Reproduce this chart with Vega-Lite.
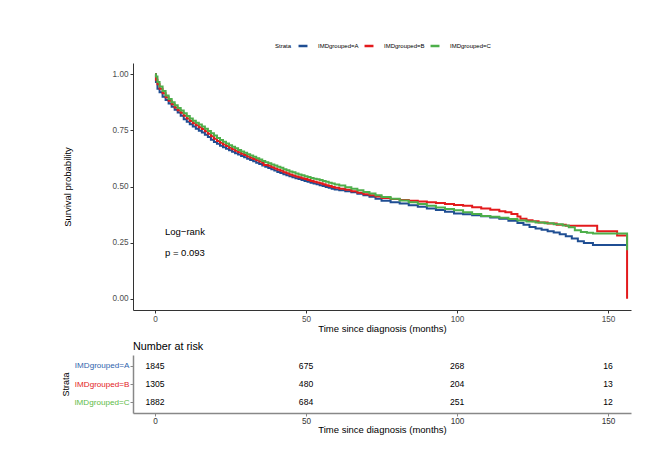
{
  "$schema": "https://vega.github.io/schema/vega-lite/v6.json",
  "padding": {"left": 61, "top": 40, "right": 5, "bottom": 5},
  "background": "white",
  "config": {
    "font": "Liberation Sans",
    "view": {"stroke": null},
    "axis": {"grid": false, "labelFont": "Liberation Sans", "titleFont": "Liberation Sans", "titleFontWeight": "normal"}
  },
  "datasets": {
    "km": [
      {"t": 0, "s": 1.0, "g": "IMDgrouped=A"}, {"t": 0.3, "s": 0.965, "g": "IMDgrouped=A"}, {"t": 0.8, "s": 0.935, "g": "IMDgrouped=A"}, {"t": 1.5, "s": 0.92, "g": "IMDgrouped=A"}, {"t": 2.5, "s": 0.9, "g": "IMDgrouped=A"}, {"t": 3.5, "s": 0.885, "g": "IMDgrouped=A"}, {"t": 4.5, "s": 0.87, "g": "IMDgrouped=A"}, {"t": 5.5, "s": 0.855, "g": "IMDgrouped=A"}, {"t": 6.5, "s": 0.842, "g": "IMDgrouped=A"}, {"t": 7.5, "s": 0.83, "g": "IMDgrouped=A"}, {"t": 8.5, "s": 0.815, "g": "IMDgrouped=A"}, {"t": 9.5, "s": 0.8, "g": "IMDgrouped=A"}, {"t": 10.5, "s": 0.788, "g": "IMDgrouped=A"}, {"t": 11.5, "s": 0.777, "g": "IMDgrouped=A"}, {"t": 12.5, "s": 0.767, "g": "IMDgrouped=A"}, {"t": 13.5, "s": 0.757, "g": "IMDgrouped=A"}, {"t": 14.5, "s": 0.748, "g": "IMDgrouped=A"}, {"t": 15.5, "s": 0.74, "g": "IMDgrouped=A"}, {"t": 16.5, "s": 0.73, "g": "IMDgrouped=A"}, {"t": 17.5, "s": 0.72, "g": "IMDgrouped=A"}, {"t": 18.5, "s": 0.708, "g": "IMDgrouped=A"}, {"t": 19.5, "s": 0.698, "g": "IMDgrouped=A"}, {"t": 20.5, "s": 0.69, "g": "IMDgrouped=A"}, {"t": 21.5, "s": 0.682, "g": "IMDgrouped=A"}, {"t": 22.5, "s": 0.675, "g": "IMDgrouped=A"}, {"t": 23.5, "s": 0.668, "g": "IMDgrouped=A"}, {"t": 24.5, "s": 0.661, "g": "IMDgrouped=A"}, {"t": 25.5, "s": 0.655, "g": "IMDgrouped=A"}, {"t": 26.5, "s": 0.648, "g": "IMDgrouped=A"}, {"t": 27.5, "s": 0.642, "g": "IMDgrouped=A"}, {"t": 28.5, "s": 0.636, "g": "IMDgrouped=A"}, {"t": 29.5, "s": 0.63, "g": "IMDgrouped=A"}, {"t": 30.5, "s": 0.624, "g": "IMDgrouped=A"}, {"t": 31.5, "s": 0.618, "g": "IMDgrouped=A"}, {"t": 32.5, "s": 0.612, "g": "IMDgrouped=A"}, {"t": 33.5, "s": 0.606, "g": "IMDgrouped=A"}, {"t": 34.5, "s": 0.6, "g": "IMDgrouped=A"}, {"t": 35.5, "s": 0.594, "g": "IMDgrouped=A"}, {"t": 36.5, "s": 0.588, "g": "IMDgrouped=A"}, {"t": 37.5, "s": 0.582, "g": "IMDgrouped=A"}, {"t": 38.5, "s": 0.577, "g": "IMDgrouped=A"}, {"t": 39.5, "s": 0.571, "g": "IMDgrouped=A"}, {"t": 40.5, "s": 0.565, "g": "IMDgrouped=A"}, {"t": 41.5, "s": 0.56, "g": "IMDgrouped=A"}, {"t": 42.5, "s": 0.555, "g": "IMDgrouped=A"}, {"t": 43.5, "s": 0.55, "g": "IMDgrouped=A"}, {"t": 44.5, "s": 0.546, "g": "IMDgrouped=A"}, {"t": 45.5, "s": 0.541, "g": "IMDgrouped=A"}, {"t": 46.5, "s": 0.537, "g": "IMDgrouped=A"}, {"t": 47.5, "s": 0.533, "g": "IMDgrouped=A"}, {"t": 48.5, "s": 0.529, "g": "IMDgrouped=A"}, {"t": 49.5, "s": 0.525, "g": "IMDgrouped=A"}, {"t": 50.5, "s": 0.521, "g": "IMDgrouped=A"}, {"t": 51.5, "s": 0.517, "g": "IMDgrouped=A"}, {"t": 52.5, "s": 0.513, "g": "IMDgrouped=A"}, {"t": 53.5, "s": 0.51, "g": "IMDgrouped=A"}, {"t": 54.5, "s": 0.506, "g": "IMDgrouped=A"}, {"t": 55.5, "s": 0.502, "g": "IMDgrouped=A"}, {"t": 56.5, "s": 0.498, "g": "IMDgrouped=A"}, {"t": 57.5, "s": 0.494, "g": "IMDgrouped=A"}, {"t": 58.5, "s": 0.49, "g": "IMDgrouped=A"}, {"t": 59.5, "s": 0.487, "g": "IMDgrouped=A"}, {"t": 61, "s": 0.483, "g": "IMDgrouped=A"}, {"t": 63, "s": 0.479, "g": "IMDgrouped=A"}, {"t": 65, "s": 0.474, "g": "IMDgrouped=A"}, {"t": 67, "s": 0.468, "g": "IMDgrouped=A"}, {"t": 69, "s": 0.461, "g": "IMDgrouped=A"}, {"t": 71, "s": 0.454, "g": "IMDgrouped=A"}, {"t": 73, "s": 0.446, "g": "IMDgrouped=A"}, {"t": 75, "s": 0.436, "g": "IMDgrouped=A"}, {"t": 78, "s": 0.43, "g": "IMDgrouped=A"}, {"t": 81, "s": 0.424, "g": "IMDgrouped=A"}, {"t": 84, "s": 0.417, "g": "IMDgrouped=A"}, {"t": 87, "s": 0.41, "g": "IMDgrouped=A"}, {"t": 90, "s": 0.402, "g": "IMDgrouped=A"}, {"t": 93, "s": 0.395, "g": "IMDgrouped=A"}, {"t": 96, "s": 0.387, "g": "IMDgrouped=A"}, {"t": 99, "s": 0.38, "g": "IMDgrouped=A"}, {"t": 102, "s": 0.376, "g": "IMDgrouped=A"}, {"t": 105, "s": 0.372, "g": "IMDgrouped=A"}, {"t": 108, "s": 0.368, "g": "IMDgrouped=A"}, {"t": 111, "s": 0.362, "g": "IMDgrouped=A"}, {"t": 114, "s": 0.356, "g": "IMDgrouped=A"}, {"t": 117, "s": 0.347, "g": "IMDgrouped=A"}, {"t": 120, "s": 0.338, "g": "IMDgrouped=A"}, {"t": 122, "s": 0.33, "g": "IMDgrouped=A"}, {"t": 124, "s": 0.32, "g": "IMDgrouped=A"}, {"t": 126, "s": 0.313, "g": "IMDgrouped=A"}, {"t": 128, "s": 0.307, "g": "IMDgrouped=A"}, {"t": 130, "s": 0.301, "g": "IMDgrouped=A"}, {"t": 132, "s": 0.295, "g": "IMDgrouped=A"}, {"t": 134, "s": 0.287, "g": "IMDgrouped=A"}, {"t": 136, "s": 0.278, "g": "IMDgrouped=A"}, {"t": 138, "s": 0.268, "g": "IMDgrouped=A"}, {"t": 140, "s": 0.256, "g": "IMDgrouped=A"}, {"t": 142, "s": 0.248, "g": "IMDgrouped=A"}, {"t": 145, "s": 0.24, "g": "IMDgrouped=A"}, {"t": 156.5, "s": 0.24, "g": "IMDgrouped=A"},

      {"t": 0, "s": 1.0, "g": "IMDgrouped=B"}, {"t": 0.3, "s": 0.975, "g": "IMDgrouped=B"}, {"t": 0.8, "s": 0.955, "g": "IMDgrouped=B"}, {"t": 1.5, "s": 0.935, "g": "IMDgrouped=B"}, {"t": 2.5, "s": 0.915, "g": "IMDgrouped=B"}, {"t": 3.5, "s": 0.897, "g": "IMDgrouped=B"}, {"t": 4.5, "s": 0.882, "g": "IMDgrouped=B"}, {"t": 5.5, "s": 0.866, "g": "IMDgrouped=B"}, {"t": 6.5, "s": 0.852, "g": "IMDgrouped=B"}, {"t": 7.5, "s": 0.84, "g": "IMDgrouped=B"}, {"t": 8.5, "s": 0.828, "g": "IMDgrouped=B"}, {"t": 9.5, "s": 0.815, "g": "IMDgrouped=B"}, {"t": 10.5, "s": 0.803, "g": "IMDgrouped=B"}, {"t": 11.5, "s": 0.792, "g": "IMDgrouped=B"}, {"t": 12.5, "s": 0.782, "g": "IMDgrouped=B"}, {"t": 13.5, "s": 0.773, "g": "IMDgrouped=B"}, {"t": 14.5, "s": 0.764, "g": "IMDgrouped=B"}, {"t": 15.5, "s": 0.756, "g": "IMDgrouped=B"}, {"t": 16.5, "s": 0.746, "g": "IMDgrouped=B"}, {"t": 17.5, "s": 0.735, "g": "IMDgrouped=B"}, {"t": 18.5, "s": 0.724, "g": "IMDgrouped=B"}, {"t": 19.5, "s": 0.713, "g": "IMDgrouped=B"}, {"t": 20.5, "s": 0.703, "g": "IMDgrouped=B"}, {"t": 21.5, "s": 0.695, "g": "IMDgrouped=B"}, {"t": 22.5, "s": 0.687, "g": "IMDgrouped=B"}, {"t": 23.5, "s": 0.68, "g": "IMDgrouped=B"}, {"t": 24.5, "s": 0.673, "g": "IMDgrouped=B"}, {"t": 25.5, "s": 0.666, "g": "IMDgrouped=B"}, {"t": 26.5, "s": 0.659, "g": "IMDgrouped=B"}, {"t": 27.5, "s": 0.652, "g": "IMDgrouped=B"}, {"t": 28.5, "s": 0.646, "g": "IMDgrouped=B"}, {"t": 29.5, "s": 0.64, "g": "IMDgrouped=B"}, {"t": 30.5, "s": 0.634, "g": "IMDgrouped=B"}, {"t": 31.5, "s": 0.628, "g": "IMDgrouped=B"}, {"t": 32.5, "s": 0.622, "g": "IMDgrouped=B"}, {"t": 33.5, "s": 0.617, "g": "IMDgrouped=B"}, {"t": 34.5, "s": 0.611, "g": "IMDgrouped=B"}, {"t": 35.5, "s": 0.606, "g": "IMDgrouped=B"}, {"t": 36, "s": 0.596, "g": "IMDgrouped=B"}, {"t": 37.5, "s": 0.592, "g": "IMDgrouped=B"}, {"t": 38.5, "s": 0.586, "g": "IMDgrouped=B"}, {"t": 39.5, "s": 0.58, "g": "IMDgrouped=B"}, {"t": 40.5, "s": 0.575, "g": "IMDgrouped=B"}, {"t": 41.5, "s": 0.57, "g": "IMDgrouped=B"}, {"t": 42.5, "s": 0.564, "g": "IMDgrouped=B"}, {"t": 43.5, "s": 0.559, "g": "IMDgrouped=B"}, {"t": 44.5, "s": 0.554, "g": "IMDgrouped=B"}, {"t": 45.5, "s": 0.549, "g": "IMDgrouped=B"}, {"t": 46.5, "s": 0.545, "g": "IMDgrouped=B"}, {"t": 47.5, "s": 0.541, "g": "IMDgrouped=B"}, {"t": 48.5, "s": 0.537, "g": "IMDgrouped=B"}, {"t": 49.5, "s": 0.533, "g": "IMDgrouped=B"}, {"t": 50.5, "s": 0.529, "g": "IMDgrouped=B"}, {"t": 51.5, "s": 0.525, "g": "IMDgrouped=B"}, {"t": 52.5, "s": 0.521, "g": "IMDgrouped=B"}, {"t": 53.5, "s": 0.518, "g": "IMDgrouped=B"}, {"t": 54.5, "s": 0.514, "g": "IMDgrouped=B"}, {"t": 55.5, "s": 0.51, "g": "IMDgrouped=B"}, {"t": 56.5, "s": 0.506, "g": "IMDgrouped=B"}, {"t": 57.5, "s": 0.502, "g": "IMDgrouped=B"}, {"t": 58.5, "s": 0.498, "g": "IMDgrouped=B"}, {"t": 59.5, "s": 0.494, "g": "IMDgrouped=B"}, {"t": 61, "s": 0.49, "g": "IMDgrouped=B"}, {"t": 63, "s": 0.485, "g": "IMDgrouped=B"}, {"t": 65, "s": 0.479, "g": "IMDgrouped=B"}, {"t": 67, "s": 0.472, "g": "IMDgrouped=B"}, {"t": 69, "s": 0.466, "g": "IMDgrouped=B"}, {"t": 71, "s": 0.461, "g": "IMDgrouped=B"}, {"t": 73, "s": 0.455, "g": "IMDgrouped=B"}, {"t": 75, "s": 0.449, "g": "IMDgrouped=B"}, {"t": 78, "s": 0.444, "g": "IMDgrouped=B"}, {"t": 81, "s": 0.44, "g": "IMDgrouped=B"}, {"t": 84, "s": 0.437, "g": "IMDgrouped=B"}, {"t": 87, "s": 0.433, "g": "IMDgrouped=B"}, {"t": 90, "s": 0.43, "g": "IMDgrouped=B"}, {"t": 93, "s": 0.426, "g": "IMDgrouped=B"}, {"t": 96, "s": 0.422, "g": "IMDgrouped=B"}, {"t": 99, "s": 0.418, "g": "IMDgrouped=B"}, {"t": 102, "s": 0.414, "g": "IMDgrouped=B"}, {"t": 105, "s": 0.408, "g": "IMDgrouped=B"}, {"t": 108, "s": 0.402, "g": "IMDgrouped=B"}, {"t": 111, "s": 0.396, "g": "IMDgrouped=B"}, {"t": 114, "s": 0.39, "g": "IMDgrouped=B"}, {"t": 116, "s": 0.385, "g": "IMDgrouped=B"}, {"t": 118, "s": 0.378, "g": "IMDgrouped=B"}, {"t": 120, "s": 0.366, "g": "IMDgrouped=B"}, {"t": 121, "s": 0.356, "g": "IMDgrouped=B"}, {"t": 123, "s": 0.35, "g": "IMDgrouped=B"}, {"t": 125, "s": 0.345, "g": "IMDgrouped=B"}, {"t": 127, "s": 0.34, "g": "IMDgrouped=B"}, {"t": 130, "s": 0.335, "g": "IMDgrouped=B"}, {"t": 133, "s": 0.33, "g": "IMDgrouped=B"}, {"t": 136, "s": 0.325, "g": "IMDgrouped=B"}, {"t": 146.4, "s": 0.301, "g": "IMDgrouped=B"}, {"t": 153, "s": 0.282, "g": "IMDgrouped=B"}, {"t": 156.3, "s": 0.0, "g": "IMDgrouped=B"},

      {"t": 0, "s": 1.0, "g": "IMDgrouped=C"}, {"t": 0.3, "s": 0.99, "g": "IMDgrouped=C"}, {"t": 0.8, "s": 0.965, "g": "IMDgrouped=C"}, {"t": 1.5, "s": 0.945, "g": "IMDgrouped=C"}, {"t": 2.5, "s": 0.925, "g": "IMDgrouped=C"}, {"t": 3.5, "s": 0.905, "g": "IMDgrouped=C"}, {"t": 4.5, "s": 0.89, "g": "IMDgrouped=C"}, {"t": 5.5, "s": 0.875, "g": "IMDgrouped=C"}, {"t": 6.5, "s": 0.862, "g": "IMDgrouped=C"}, {"t": 7.5, "s": 0.85, "g": "IMDgrouped=C"}, {"t": 8.5, "s": 0.838, "g": "IMDgrouped=C"}, {"t": 9.5, "s": 0.826, "g": "IMDgrouped=C"}, {"t": 10.5, "s": 0.814, "g": "IMDgrouped=C"}, {"t": 11.5, "s": 0.803, "g": "IMDgrouped=C"}, {"t": 12.5, "s": 0.793, "g": "IMDgrouped=C"}, {"t": 13.5, "s": 0.784, "g": "IMDgrouped=C"}, {"t": 14.5, "s": 0.776, "g": "IMDgrouped=C"}, {"t": 15.5, "s": 0.767, "g": "IMDgrouped=C"}, {"t": 16.5, "s": 0.757, "g": "IMDgrouped=C"}, {"t": 17.5, "s": 0.747, "g": "IMDgrouped=C"}, {"t": 18.5, "s": 0.737, "g": "IMDgrouped=C"}, {"t": 19.5, "s": 0.727, "g": "IMDgrouped=C"}, {"t": 20.5, "s": 0.716, "g": "IMDgrouped=C"}, {"t": 21.5, "s": 0.707, "g": "IMDgrouped=C"}, {"t": 22.5, "s": 0.699, "g": "IMDgrouped=C"}, {"t": 23.5, "s": 0.691, "g": "IMDgrouped=C"}, {"t": 24.5, "s": 0.684, "g": "IMDgrouped=C"}, {"t": 25.5, "s": 0.677, "g": "IMDgrouped=C"}, {"t": 26.5, "s": 0.67, "g": "IMDgrouped=C"}, {"t": 27.5, "s": 0.663, "g": "IMDgrouped=C"}, {"t": 28.5, "s": 0.656, "g": "IMDgrouped=C"}, {"t": 29.5, "s": 0.65, "g": "IMDgrouped=C"}, {"t": 30.5, "s": 0.644, "g": "IMDgrouped=C"}, {"t": 31.5, "s": 0.638, "g": "IMDgrouped=C"}, {"t": 32.5, "s": 0.632, "g": "IMDgrouped=C"}, {"t": 33.5, "s": 0.626, "g": "IMDgrouped=C"}, {"t": 34.5, "s": 0.62, "g": "IMDgrouped=C"}, {"t": 35.5, "s": 0.614, "g": "IMDgrouped=C"}, {"t": 36.5, "s": 0.608, "g": "IMDgrouped=C"}, {"t": 37.5, "s": 0.603, "g": "IMDgrouped=C"}, {"t": 38.5, "s": 0.598, "g": "IMDgrouped=C"}, {"t": 39.5, "s": 0.593, "g": "IMDgrouped=C"}, {"t": 40.5, "s": 0.588, "g": "IMDgrouped=C"}, {"t": 41.5, "s": 0.583, "g": "IMDgrouped=C"}, {"t": 42.5, "s": 0.577, "g": "IMDgrouped=C"}, {"t": 43.5, "s": 0.572, "g": "IMDgrouped=C"}, {"t": 44.5, "s": 0.567, "g": "IMDgrouped=C"}, {"t": 45.5, "s": 0.563, "g": "IMDgrouped=C"}, {"t": 46.5, "s": 0.558, "g": "IMDgrouped=C"}, {"t": 47.5, "s": 0.554, "g": "IMDgrouped=C"}, {"t": 48.5, "s": 0.55, "g": "IMDgrouped=C"}, {"t": 49.5, "s": 0.546, "g": "IMDgrouped=C"}, {"t": 50.5, "s": 0.542, "g": "IMDgrouped=C"}, {"t": 51.5, "s": 0.538, "g": "IMDgrouped=C"}, {"t": 52.5, "s": 0.535, "g": "IMDgrouped=C"}, {"t": 53.5, "s": 0.532, "g": "IMDgrouped=C"}, {"t": 54.5, "s": 0.529, "g": "IMDgrouped=C"}, {"t": 55.5, "s": 0.525, "g": "IMDgrouped=C"}, {"t": 56.5, "s": 0.521, "g": "IMDgrouped=C"}, {"t": 57.5, "s": 0.517, "g": "IMDgrouped=C"}, {"t": 58.5, "s": 0.513, "g": "IMDgrouped=C"}, {"t": 59.5, "s": 0.509, "g": "IMDgrouped=C"}, {"t": 61, "s": 0.504, "g": "IMDgrouped=C"}, {"t": 63, "s": 0.497, "g": "IMDgrouped=C"}, {"t": 65, "s": 0.49, "g": "IMDgrouped=C"}, {"t": 67, "s": 0.483, "g": "IMDgrouped=C"}, {"t": 69, "s": 0.476, "g": "IMDgrouped=C"}, {"t": 71, "s": 0.469, "g": "IMDgrouped=C"}, {"t": 73, "s": 0.461, "g": "IMDgrouped=C"}, {"t": 75, "s": 0.453, "g": "IMDgrouped=C"}, {"t": 78, "s": 0.445, "g": "IMDgrouped=C"}, {"t": 81, "s": 0.438, "g": "IMDgrouped=C"}, {"t": 84, "s": 0.43, "g": "IMDgrouped=C"}, {"t": 87, "s": 0.422, "g": "IMDgrouped=C"}, {"t": 90, "s": 0.414, "g": "IMDgrouped=C"}, {"t": 93, "s": 0.406, "g": "IMDgrouped=C"}, {"t": 96, "s": 0.4, "g": "IMDgrouped=C"}, {"t": 99, "s": 0.394, "g": "IMDgrouped=C"}, {"t": 102, "s": 0.385, "g": "IMDgrouped=C"}, {"t": 105, "s": 0.377, "g": "IMDgrouped=C"}, {"t": 108, "s": 0.369, "g": "IMDgrouped=C"}, {"t": 111, "s": 0.365, "g": "IMDgrouped=C"}, {"t": 114, "s": 0.361, "g": "IMDgrouped=C"}, {"t": 117, "s": 0.355, "g": "IMDgrouped=C"}, {"t": 120, "s": 0.349, "g": "IMDgrouped=C"}, {"t": 123, "s": 0.344, "g": "IMDgrouped=C"}, {"t": 126, "s": 0.34, "g": "IMDgrouped=C"}, {"t": 129, "s": 0.336, "g": "IMDgrouped=C"}, {"t": 132, "s": 0.332, "g": "IMDgrouped=C"}, {"t": 135, "s": 0.326, "g": "IMDgrouped=C"}, {"t": 137, "s": 0.318, "g": "IMDgrouped=C"}, {"t": 139, "s": 0.305, "g": "IMDgrouped=C"}, {"t": 141, "s": 0.297, "g": "IMDgrouped=C"}, {"t": 143, "s": 0.294, "g": "IMDgrouped=C"}, {"t": 145, "s": 0.291, "g": "IMDgrouped=C"}, {"t": 156.3, "s": 0.216, "g": "IMDgrouped=C"}
    ],
    "annot": [
      {"t": 3.3, "s": 0.297, "label": "Log−rank"},
      {"t": 3.3, "s": 0.202, "label": "p = 0.093"}
    ],
    "risk": [
      {"t": 0, "g": "IMDgrouped=A", "n": 1845}, {"t": 50, "g": "IMDgrouped=A", "n": 675}, {"t": 100, "g": "IMDgrouped=A", "n": 268}, {"t": 150, "g": "IMDgrouped=A", "n": 16},
      {"t": 0, "g": "IMDgrouped=B", "n": 1305}, {"t": 50, "g": "IMDgrouped=B", "n": 480}, {"t": 100, "g": "IMDgrouped=B", "n": 204}, {"t": 150, "g": "IMDgrouped=B", "n": 13},
      {"t": 0, "g": "IMDgrouped=C", "n": 1882}, {"t": 50, "g": "IMDgrouped=C", "n": 684}, {"t": 100, "g": "IMDgrouped=C", "n": 251}, {"t": 150, "g": "IMDgrouped=C", "n": 12}
    ]
  },
  "vconcat": [
    {
      "width": 498,
      "height": 247,
      "layer": [
        {
          "data": {"name": "km"},
          "mark": {"type": "line", "interpolate": "step-after", "strokeWidth": 2},
          "encoding": {
            "x": {"field": "t", "type": "quantitative", "scale": {"domain": [-7.3, 157.6], "nice": false, "zero": false},
              "axis": {"title": "Time since diagnosis (months)", "values": [0, 50, 100, 150], "titleFontSize": 9.5, "titleColor": "black", "titlePadding": 1, "labelFontSize": 8.2, "labelColor": "#4d4d4d", "labelPadding": 2, "tickSize": 3, "tickColor": "#333333", "domainColor": "#333333"}},
            "y": {"field": "s", "type": "quantitative", "scale": {"domain": [-0.05, 1.05], "nice": false, "zero": false},
              "axis": {"title": "Survival probability", "values": [0, 0.25, 0.5, 0.75, 1], "format": ".2f", "titleFontSize": 9.5, "titleColor": "black", "titlePadding": 40, "labelFontSize": 8.2, "labelColor": "#4d4d4d", "labelPadding": 2, "tickSize": 3, "tickColor": "#333333", "domainColor": "#333333"}},
            "color": {"field": "g", "type": "nominal",
              "scale": {"domain": ["IMDgrouped=A", "IMDgrouped=B", "IMDgrouped=C"], "range": ["#1f4e93", "#e31a1c", "#4daf4a"]},
              "legend": {"title": "Strata", "orient": "none", "direction": "horizontal", "legendX": 142, "legendY": -23, "titleOrient": "left", "titleFontSize": 6, "titleFontWeight": "normal", "labelFontSize": 6, "symbolType": "stroke", "symbolStrokeWidth": 2.5, "symbolSize": 80, "columnPadding": 0, "titlePadding": 5, "labelOffset": 9}}
          }
        },
        {
          "data": {"name": "annot"},
          "mark": {"type": "text", "align": "left", "baseline": "middle", "fontSize": 9.5, "color": "black"},
          "encoding": {
            "x": {"field": "t", "type": "quantitative"},
            "y": {"field": "s", "type": "quantitative"},
            "text": {"field": "label"}
          }
        }
      ]
    },
    {
      "width": 498,
      "height": 58,
      "title": {"text": "Number at risk", "anchor": "start", "frame": "group", "fontSize": 10.8, "fontWeight": "normal", "offset": 3},
      "data": {"name": "risk"},
      "mark": {"type": "text", "fontSize": 8.6, "color": "black", "baseline": "middle"},
      "encoding": {
        "x": {"field": "t", "type": "quantitative", "scale": {"domain": [-7.3, 157.6], "nice": false, "zero": false},
          "axis": {"title": "Time since diagnosis (months)", "values": [0, 50, 100, 150], "titleFontSize": 9.5, "titleColor": "black", "titlePadding": 0, "labelFontSize": 8.2, "labelColor": "#333333", "labelPadding": 1, "tickSize": 3, "tickColor": "#888888", "domainColor": "#888888", "domainWidth": 1.5}},
        "y": {"field": "g", "type": "nominal", "scale": {"type": "point", "padding": 0.6, "domain": ["IMDgrouped=A", "IMDgrouped=B", "IMDgrouped=C"]},
          "axis": {"title": "Strata", "titleFontSize": 9, "titleColor": "black", "titlePadding": 3, "labelFontSize": 8.1, "labelPadding": 1, "tickSize": 3, "tickColor": "#888888", "domainColor": "#888888", "domainWidth": 1.5,
            "labelColor": {"expr": "datum.value == 'IMDgrouped=A' ? '#2f64ad' : datum.value == 'IMDgrouped=B' ? '#e31a1c' : '#5dbb46'"}}},
        "text": {"field": "n", "type": "quantitative"}
      }
    }
  ],
  "spacing": 8
}
